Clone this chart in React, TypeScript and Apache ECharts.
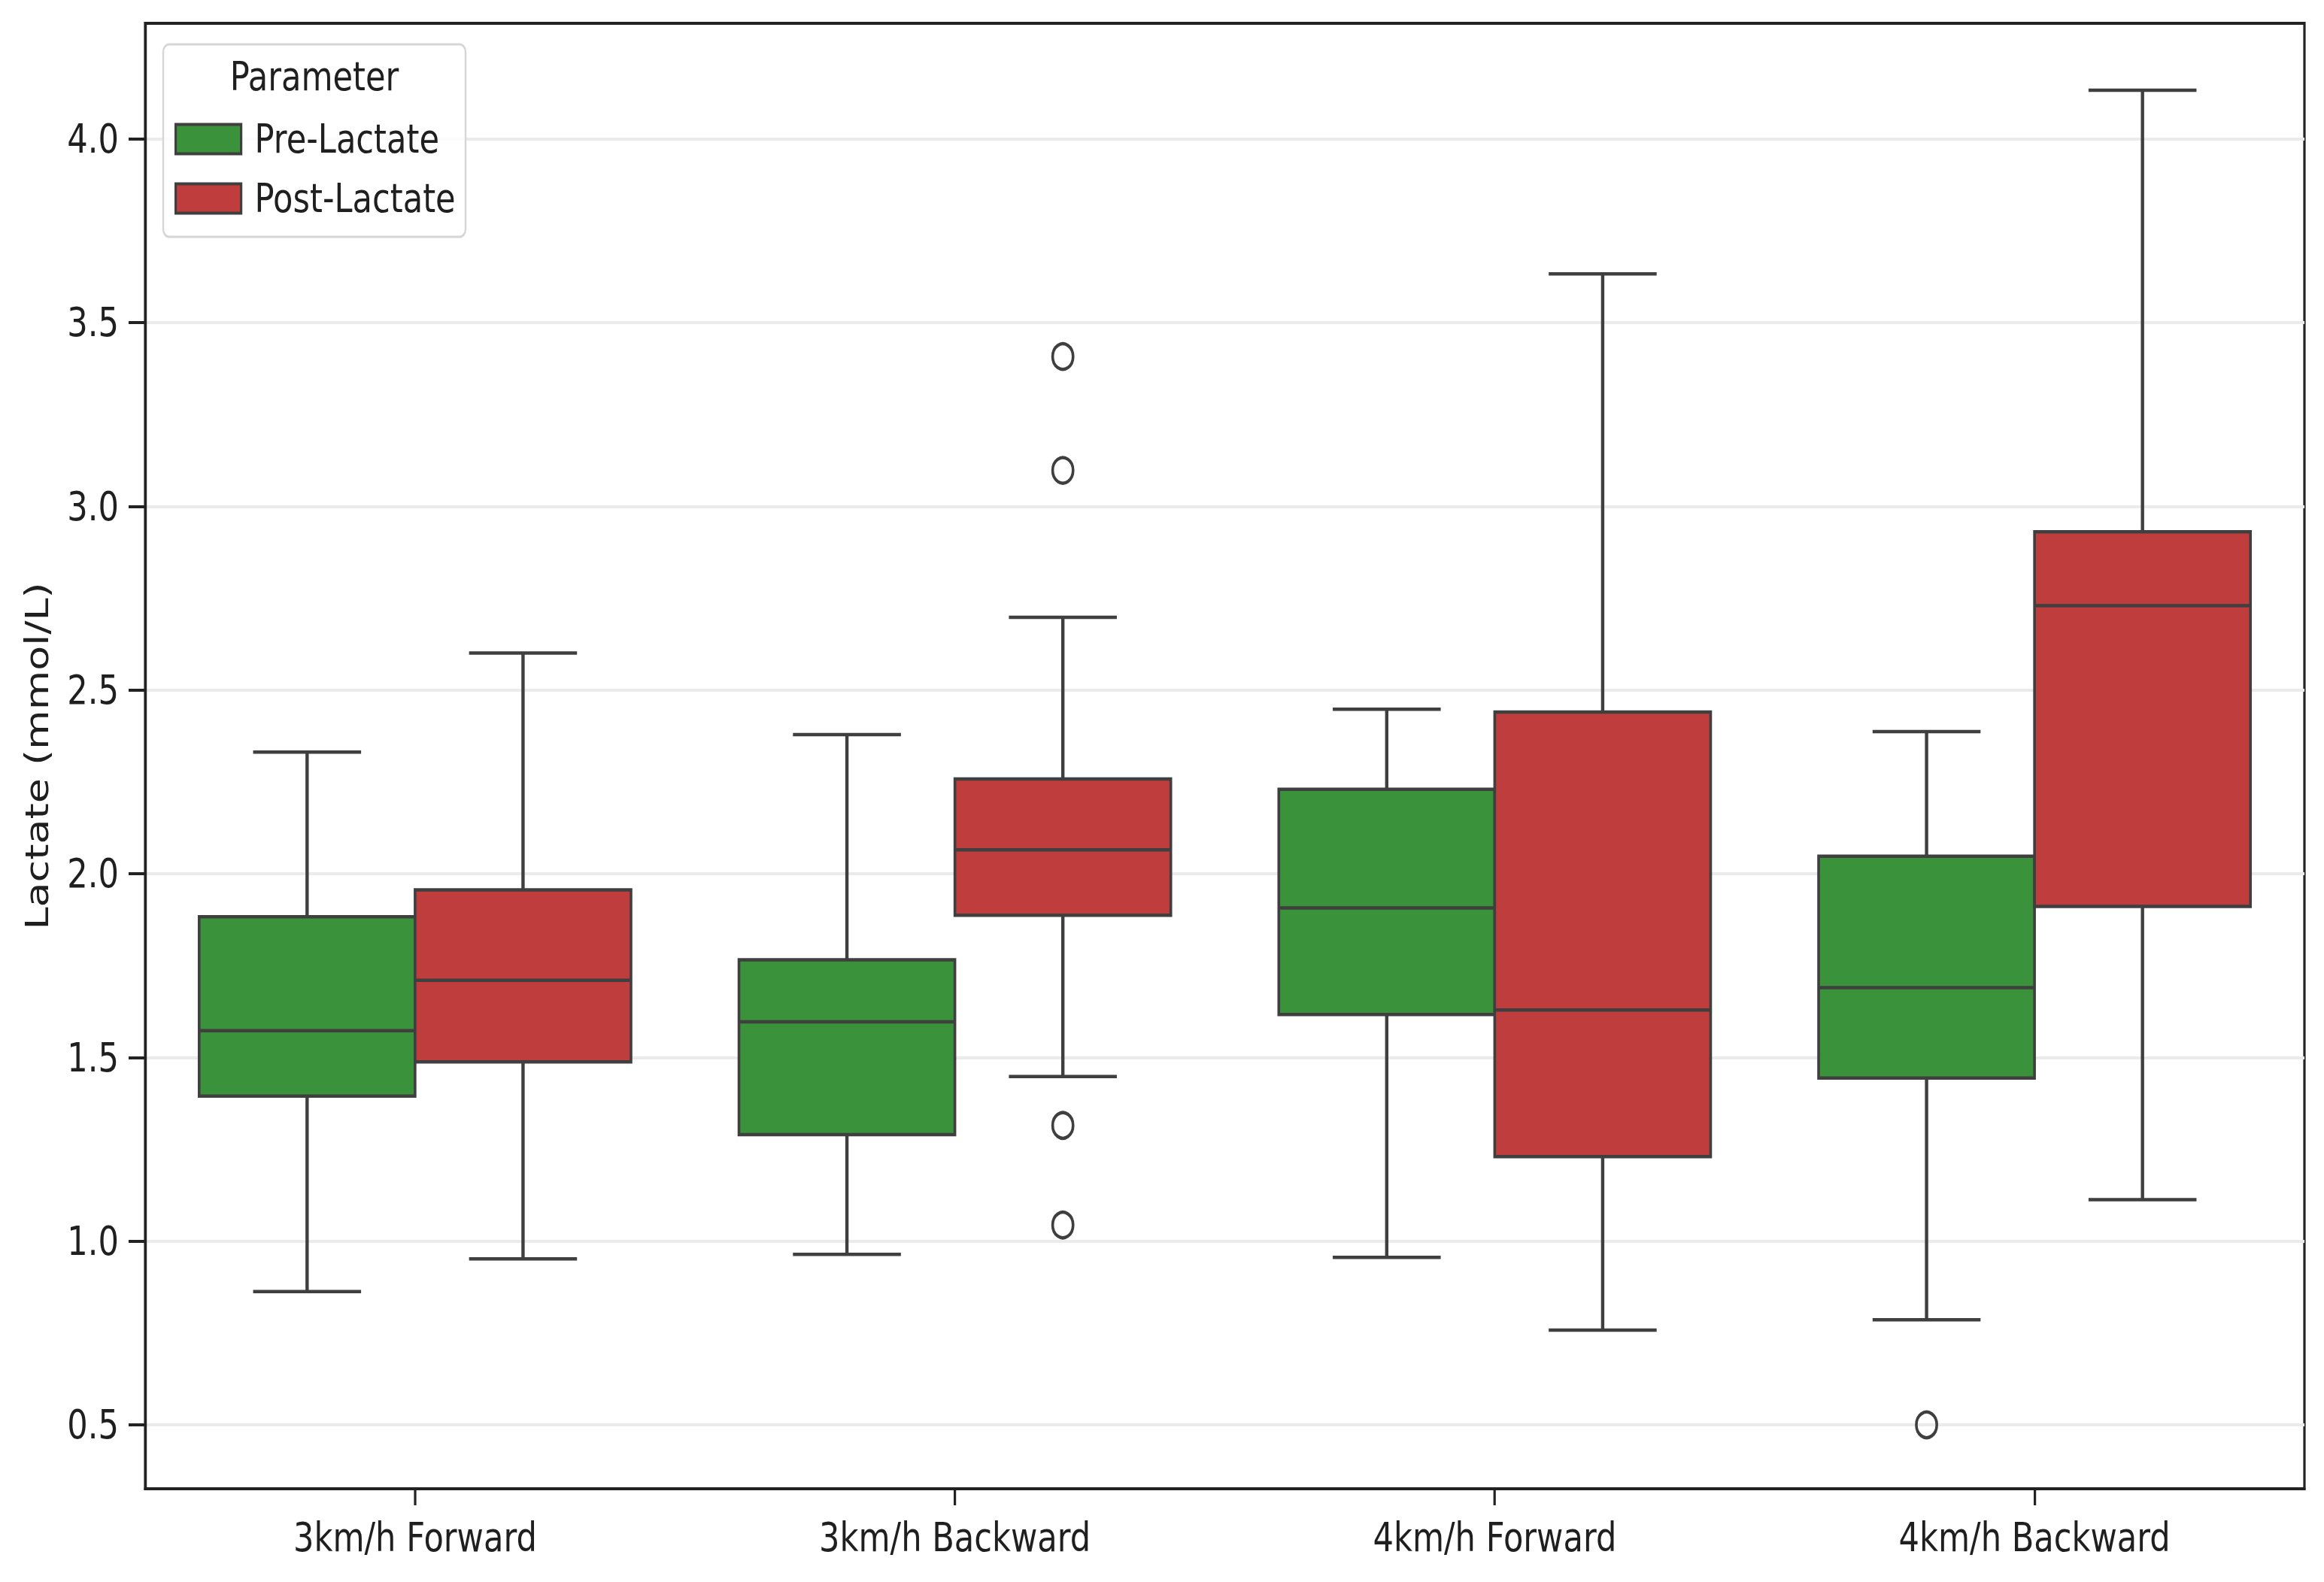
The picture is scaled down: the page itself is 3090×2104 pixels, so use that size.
import React, { useEffect, useRef } from "react";
import * as echarts from "echarts";

// ---------- data ----------
const categories = ["3km/h Forward", "3km/h Backward", "4km/h Forward", "4km/h Backward"];
const seriesNames = ["Pre-Lactate", "Post-Lactate"];
// [lower whisker, Q1, median, Q3, upper whisker]
const preLactate = [
  [0.863, 1.395, 1.573, 1.883, 2.331],
  [0.964, 1.29, 1.597, 1.766, 2.379],
  [0.956, 1.617, 1.907, 2.23, 2.448],
  [0.786, 1.444, 1.69, 2.048, 2.387],
];
const postLactate = [
  [0.952, 1.488, 1.71, 1.956, 2.601],
  [1.448, 1.887, 2.065, 2.258, 2.698],
  [0.758, 1.23, 1.629, 2.44, 3.633],
  [1.113, 1.911, 2.73, 2.931, 4.133],
];
// [category index, value]
const preOutliers = [[3, 0.5]];
const postOutliers = [
  [1, 3.408],
  [1, 3.098],
  [1, 1.315],
  [1, 1.044],
];
const yTickValues = [0.5, 1.0, 1.5, 2.0, 2.5, 3.0, 3.5, 4.0];
const yMin = 0.326;
const yMax = 4.315;

// ---------- style ----------
const S = 0.8; // horizontal squash of the reference picture
const W = Math.round(3090 / S);
const H = 2104;
const u = (realX: number) => realX / S; // real horizontal px -> unsquashed px
const FONT = "DejaVu Sans";
const TEXT = "#1f1f1f";
const AXIS = "#222222";
const LINE = "#3f3f3f";
const COLORS = ["#3a923a", "#c03d3e"];

function boxRender(offset: number, color: string) {
  return (_params: any, api: any) => {
    const ci = api.value(0);
    const band = api.size([1, 0])[0];
    const cx = api.coord([ci, 1])[0] + offset * band;
    const half = 0.2 * band;
    const capHalf = 0.1 * band;
    const yLow = api.coord([ci, api.value(1)])[1];
    const yQ1 = api.coord([ci, api.value(2)])[1];
    const yMed = api.coord([ci, api.value(3)])[1];
    const yQ3 = api.coord([ci, api.value(4)])[1];
    const yHigh = api.coord([ci, api.value(5)])[1];
    const ls = { stroke: LINE, lineWidth: 4.5 };
    const vs = { stroke: LINE, lineWidth: 5.5 };
    return {
      type: "group",
      children: [
        { type: "line", shape: { x1: cx, y1: yLow, x2: cx, y2: yQ1 }, style: vs },
        { type: "line", shape: { x1: cx, y1: yQ3, x2: cx, y2: yHigh }, style: vs },
        { type: "line", shape: { x1: cx - capHalf, y1: yLow, x2: cx + capHalf, y2: yLow }, style: ls },
        { type: "line", shape: { x1: cx - capHalf, y1: yHigh, x2: cx + capHalf, y2: yHigh }, style: ls },
        {
          type: "rect",
          shape: { x: cx - half, y: yQ3, width: 2 * half, height: yQ1 - yQ3 },
          style: { fill: color, stroke: LINE, lineWidth: 4.5 },
        },
        { type: "line", shape: { x1: cx - half, y1: yMed, x2: cx + half, y2: yMed }, style: ls },
      ],
    };
  };
}

function outlierRender(offset: number) {
  return (_params: any, api: any) => {
    const ci = api.value(0);
    const band = api.size([1, 0])[0];
    const [x, y] = api.coord([ci, api.value(1)]);
    return {
      type: "circle",
      shape: { cx: x + offset * band, cy: y, r: 17 },
      style: { fill: "none", stroke: LINE, lineWidth: 4.5 },
    };
  };
}

const boxSets = [preLactate, postLactate];
const outlierSets = [preOutliers, postOutliers];
const offsets = [-0.2, 0.2];

const series: any[] = [];
seriesNames.forEach((name, g) => {
  series.push({
    type: "custom",
    name,
    itemStyle: { color: COLORS[g] },
    renderItem: boxRender(offsets[g], COLORS[g]),
    encode: { x: 0, y: [1, 2, 3, 4, 5] },
    data: boxSets[g].map((d, i) => [i, ...d]),
    z: 3,
  });
  series.push({
    type: "custom",
    name,
    itemStyle: { color: COLORS[g] },
    renderItem: outlierRender(offsets[g]),
    encode: { x: 0, y: 1 },
    data: outlierSets[g],
    z: 3,
  });
});

const option: any = {
  animation: false,
  backgroundColor: "#ffffff",
  textStyle: { fontFamily: FONT },
  grid: {
    left: u(193),
    right: W - u(3064),
    top: 31,
    bottom: 124,
    show: true,
    borderColor: AXIS,
    borderWidth: 4,
    backgroundColor: "transparent",
  },
  legend: {
    orient: "vertical",
    left: u(232),
    top: 155,
    padding: 0,
    itemGap: 19,
    itemWidth: u(87),
    itemHeight: 39,
    selectedMode: false,
    z: 6,
    textStyle: {
      fontFamily: FONT,
      fontSize: 54,
      color: TEXT,
      lineHeight: 60,
      padding: [0, 0, 0, u(18) - 5],
    },
    data: seriesNames.map((n, i) => ({
      name: n,
      icon: "rect",
      itemStyle: { color: COLORS[i], borderColor: LINE, borderWidth: 4 },
    })),
  },
  graphic: [
    {
      type: "rect",
      z: 5,
      shape: { x: u(217), y: 59, width: u(619) - u(217), height: 256, r: 10 },
      style: { fill: "rgba(255,255,255,0.85)", stroke: "#d6d6d6", lineWidth: 3 },
    },
    {
      type: "text",
      z: 7,
      x: u(418),
      y: 102,
      style: {
        text: "Parameter",
        fontFamily: FONT,
        fontSize: 54,
        fill: TEXT,
        textAlign: "center",
        textVerticalAlign: "middle",
      },
    },
  ],
  xAxis: {
    type: "category",
    data: categories,
    axisLine: { show: true, lineStyle: { color: AXIS, width: 4 } },
    axisTick: { show: true, alignWithLabel: true, length: 22, lineStyle: { color: AXIS, width: 4 } },
    axisLabel: { fontFamily: FONT, fontSize: 54, color: TEXT, margin: 38 },
    splitLine: { show: false },
  },
  yAxis: {
    type: "value",
    min: yMin,
    max: yMax,
    name: "Lactate (mmol/L)",
    nameLocation: "middle",
    nameGap: u(122),
    nameTextStyle: { fontFamily: FONT, fontSize: 54, color: TEXT },
    axisLine: { show: true, lineStyle: { color: AXIS, width: 4 } },
    axisTick: {
      show: true,
      length: u(22),
      customValues: yTickValues,
      lineStyle: { color: AXIS, width: 4 },
    },
    axisLabel: {
      fontFamily: FONT,
      fontSize: 54,
      color: TEXT,
      margin: u(35),
      customValues: yTickValues,
      formatter: (v: number) => v.toFixed(1),
    },
    splitLine: { show: true, lineStyle: { color: "#ebebeb", width: 4 } },
  },
  series,
};

export default function App() {
  const ref = useRef<HTMLDivElement>(null);
  useEffect(() => {
    const chart = echarts.init(ref.current as HTMLDivElement, null, { renderer: "svg" });
    chart.setOption(option);
    return () => chart.dispose();
  }, []);
  return (
    <div
      style={{
        position: "fixed",
        left: 0,
        top: 0,
        width: 3090,
        height: H,
        overflow: "hidden",
        background: "#fff",
      }}
    >
      <div
        ref={ref}
        style={{ width: W, height: H, transform: `scaleX(${S})`, transformOrigin: "0 0" }}
      />
    </div>
  );
}
